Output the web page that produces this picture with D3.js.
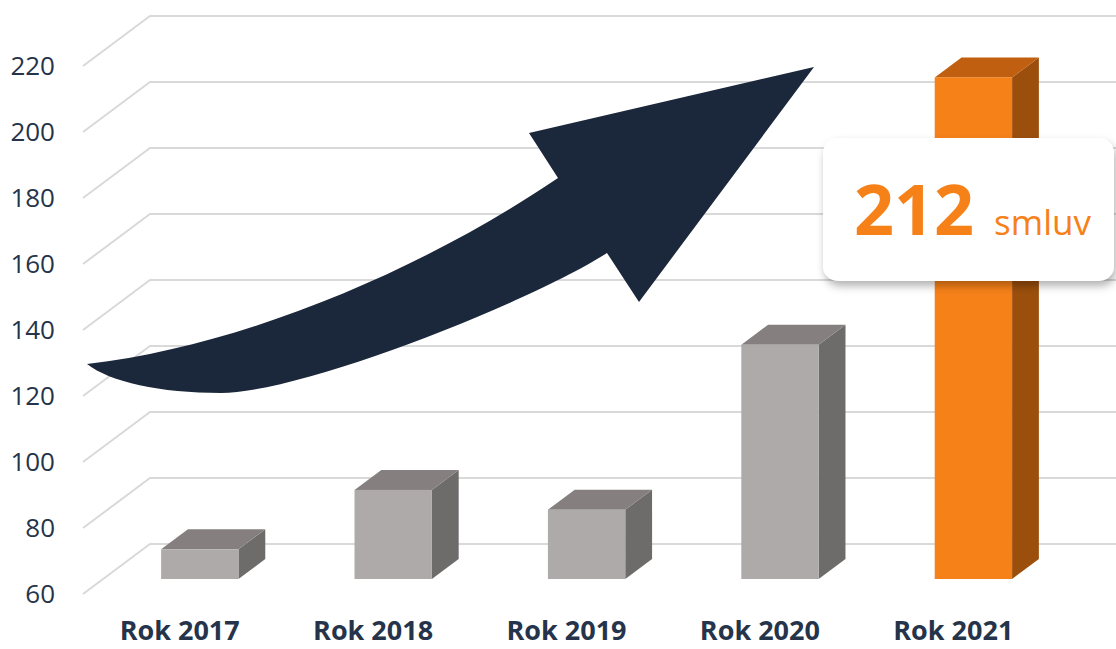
<!DOCTYPE html>
<html>
<head>
<meta charset="utf-8">
<script src="https://cdn.jsdelivr.net/npm/d3@7/dist/d3.min.js"></script>
<style>
  html, body { margin: 0; padding: 0; background: #ffffff; }
  svg { display: block; }
  text { font-family: "Open Sans", "Noto Sans", sans-serif; }
</style>
</head>
<body>
<svg id="chart" width="1116" height="649"></svg>
<script>
// Počet smluv podle roku
const categories = ["Rok 2017", "Rok 2018", "Rok 2019", "Rok 2020", "Rok 2021"];
const values = [69, 87, 81, 131, 212];
const highlight = [false, false, false, false, true];
const yTicks = [60, 80, 100, 120, 140, 160, 180, 200, 220];
const calloutValue = 212;
const calloutUnit = "smluv";

const W = 1116, H = 649;
const svg = d3.select("#chart");

// front plane of the 3D plot area and the depth vector to its back wall
const front = { left: 83, right: 1050, top: 66, bottom: 594 };
const depth = { dx: 67, dy: -50 };
const barDepthStart = 0.3, barDepthEnd = 0.7;

const x = d3.scaleBand().domain(categories).range([front.left, front.right]).paddingInner(0).paddingOuter(0);
const y = d3.scaleLinear().domain([60, 220]).range([front.bottom, front.top]);

const gridColor = "#d9d9d9";
const textColor = "#25344a";

// gridlines: diagonal on the left wall, horizontal on the back wall
const grid = svg.append("g").attr("class", "grid");
yTicks.forEach(t => {
  const fy = y(t);
  grid.append("path")
    .attr("d", `M${front.left},${fy} L${front.left + depth.dx},${fy + depth.dy} L${W + 5},${fy + depth.dy}`)
    .attr("fill", "none")
    .attr("stroke", gridColor)
    .attr("stroke-width", 2);
});

// y axis labels on the front plane
const yAxis = d3.axisLeft(y).tickValues(yTicks).tickSize(0).tickPadding(28);
const yg = svg.append("g").attr("transform", `translate(${front.left},0)`).call(yAxis);
yg.select(".domain").remove();
yg.selectAll("text")
  .attr("fill", textColor)
  .style("font-size", "26px")
  .style("font-family", "'Open Sans', sans-serif");

// 3D columns
const barW = x.bandwidth() * 0.4;
const fdx = depth.dx * barDepthStart, fdy = depth.dy * barDepthStart;
const bdx = depth.dx * (barDepthEnd - barDepthStart), bdy = depth.dy * (barDepthEnd - barDepthStart);

const palette = {
  gray:   { front: "#adaaa9", top: "#85807f", side: "#6e6b6b" },
  orange: { front: "#f78119", top: "#c05f0f", side: "#9c4f0c" }
};

const bars = svg.append("g").attr("class", "bars");
categories.forEach((c, i) => {
  const col = highlight[i] ? palette.orange : palette.gray;
  const x0 = x(c) + (x.bandwidth() - barW) / 2 + fdx;
  const x1 = x0 + barW;
  const yTop = y(values[i]) + fdy;
  const yBot = y(60) + fdy;
  const g = bars.append("g");
  // side face
  g.append("path")
    .attr("d", `M${x1},${yTop} L${x1 + bdx},${yTop + bdy} L${x1 + bdx},${yBot + bdy} L${x1},${yBot} Z`)
    .attr("fill", col.side);
  // top face
  g.append("path")
    .attr("d", `M${x0},${yTop} L${x0 + bdx},${yTop + bdy} L${x1 + bdx},${yTop + bdy} L${x1},${yTop} Z`)
    .attr("fill", col.top);
  // front face
  g.append("rect")
    .attr("x", x0).attr("y", yTop)
    .attr("width", barW).attr("height", yBot - yTop)
    .attr("fill", col.front);
});

// category labels
svg.append("g").selectAll("text")
  .data(categories)
  .join("text")
  .attr("x", d => x(d) + x.bandwidth() / 2)
  .attr("y", 640)
  .attr("text-anchor", "middle")
  .attr("fill", textColor)
  .style("font-size", "27px")
  .style("font-weight", "700")
  .text(d => d);

// growth arrow
svg.append("path")
  .attr("d",
    "M87,364 " +
    "C250,345 430,265 558,178 " +
    "L529,133 L814,67 L639,302 L607,253 " +
    "C527,304 300,393 221,393 " +
    "C160,393 110,382 87,364 Z")
  .attr("fill", "#1b273a");

// callout box with the final value
const defs = svg.append("defs");
const shadow = defs.append("filter").attr("id", "shadow")
  .attr("x", "-10%").attr("y", "-10%").attr("width", "130%").attr("height", "140%");
shadow.append("feDropShadow")
  .attr("dx", 2).attr("dy", 5).attr("stdDeviation", 4)
  .attr("flood-color", "#000").attr("flood-opacity", 0.3);

const callout = svg.append("g");
callout.append("rect")
  .attr("x", 823).attr("y", 138)
  .attr("width", 291).attr("height", 143)
  .attr("rx", 15).attr("ry", 15)
  .attr("fill", "#ffffff")
  .attr("filter", "url(#shadow)");
const ct = callout.append("text")
  .attr("x", 854).attr("y", 235)
  .attr("fill", "#f78119");
ct.append("tspan")
  .style("font-size", "70px").style("font-weight", "700")
  .text(calloutValue);
ct.append("tspan")
  .attr("dx", 20)
  .style("font-size", "35px")
  .text(calloutUnit);
</script>
</body>
</html>
